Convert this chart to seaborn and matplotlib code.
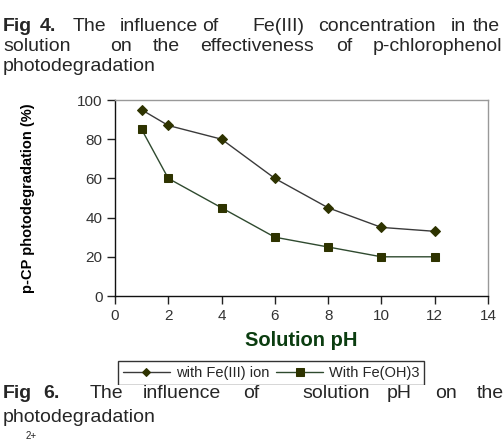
import matplotlib
matplotlib.use("Agg")
import matplotlib.pyplot as plt
from matplotlib.patches import Rectangle
import seaborn as sns
import pandas as pd

ph = [1, 2, 4, 6, 8, 10, 12]
fe_ion = [95, 87, 80, 60, 45, 35, 33]
fe_oh3 = [85, 60, 45, 30, 25, 20, 20]
series_names = ['with Fe(III) ion', 'With Fe(OH)3']
x_ticks = [0, 2, 4, 6, 8, 10, 12, 14]
y_ticks = [0, 20, 40, 60, 80, 100]

top_caption = [
    ('Fig', 3, True), ('4.', 40, True), ('The', 73, False), ('influence', 120, False),
    ('of', 202, False), ('Fe(III)', 252, False), ('concentration', 318, False),
    ('in', 451, False), ('the', 473, False),
]
top_caption2 = [
    ('solution', 3), ('on', 110), ('the', 153), ('effectiveness', 200),
    ('of', 336), ('p-chlorophenol', 373),
]
bottom_caption = [
    ('Fig', 3, True), ('6.', 43, True), ('The', 90, False), ('influence', 143, False),
    ('of', 243, False), ('solution', 302, False), ('pH', 387, False),
    ('on', 435, False), ('the', 477, False),
]

df = pd.DataFrame({'ph': ph, 'ion': fe_ion, 'oh3': fe_oh3})

sns.set_style("white")
plt.rcParams['font.family'] = ['Liberation Sans', 'DejaVu Sans']

W, H = 504, 440
fig = plt.figure(figsize=(W / 100, H / 100), dpi=100)
ax = fig.add_axes([115 / W, 1 - 296 / H, (488 - 115) / W, (296 - 100) / H])

sns.lineplot(data=df, x='ph', y='ion', ax=ax, color='#3a3a3a', lw=1.0,
             marker='D', markersize=4.6, markerfacecolor='#2e3300',
             markeredgecolor='#2e3300', label=series_names[0], legend=False)
sns.lineplot(data=df, x='ph', y='oh3', ax=ax, color='#2f4a2f', lw=1.0,
             marker='s', markersize=5.8, markerfacecolor='#2e3300',
             markeredgecolor='#2e3300', label=series_names[1], legend=False)

ax.set_xlim(0, 14)
ax.set_ylim(0, 100)
ax.set_xticks(x_ticks)
ax.set_yticks(y_ticks)
ax.tick_params(axis='both', direction='out', length=6, width=1, color='#222222',
               labelsize=11, labelcolor='#333333', pad=3, left=True, bottom=True)
for side in ['left', 'bottom']:
    ax.spines[side].set_color('#111111')
for side in ['top', 'right']:
    ax.spines[side].set_color('#999999')
for s in ax.spines.values():
    s.set_linewidth(1.0)

ax.set_xlabel('Solution pH', fontsize=14.5, fontweight='bold', color='#0b3d10', labelpad=6)
ax.set_ylabel('p-CP photodegradation (%)', fontsize=10.5, fontweight='bold', color='black')
ax.yaxis.set_label_coords(-(115 - 35) / (488 - 115), 0.5)

handles, labels = ax.get_legend_handles_labels()
leg = fig.legend(handles, labels, loc='upper left', bbox_to_anchor=(118 / W, 1 - 361 / H),
                 ncol=2, fontsize=10.5, frameon=True, fancybox=False, edgecolor='black',
                 handlelength=3.2, handletextpad=0.4, columnspacing=0.5,
                 borderaxespad=0, borderpad=0.35, markerscale=0.9)
leg.get_frame().set_linewidth(1.0)
leg.set_zorder(5)

# caption area hides the bottom of the legend box
fig.patches.append(Rectangle((0, 0), 1, 1 - 385 / H, transform=fig.transFigure,
                             facecolor='white', edgecolor='none', zorder=6))

for word, x, bold in top_caption:
    fig.text(x / W, 1 - 31 / H, word, fontsize=14, fontweight='bold' if bold else 'normal',
             va='baseline', ha='left', zorder=7)
for word, x in top_caption2:
    fig.text(x / W, 1 - 51 / H, word, fontsize=14, va='baseline', ha='left', zorder=7)
fig.text(3 / W, 1 - 71 / H, 'photodegradation', fontsize=14, va='baseline', ha='left', zorder=7)

for word, x, bold in bottom_caption:
    fig.text(x / W, 1 - 398 / H, word, fontsize=14, fontweight='bold' if bold else 'normal',
             va='baseline', ha='left', zorder=7)
fig.text(3 / W, 1 - 422 / H, 'photodegradation', fontsize=14, va='baseline', ha='left', zorder=7)
fig.text(26 / W, 1 - 441 / H, '2+', fontsize=7, va='bottom', ha='left', zorder=7)

fig.savefig('out.png', dpi=100)
